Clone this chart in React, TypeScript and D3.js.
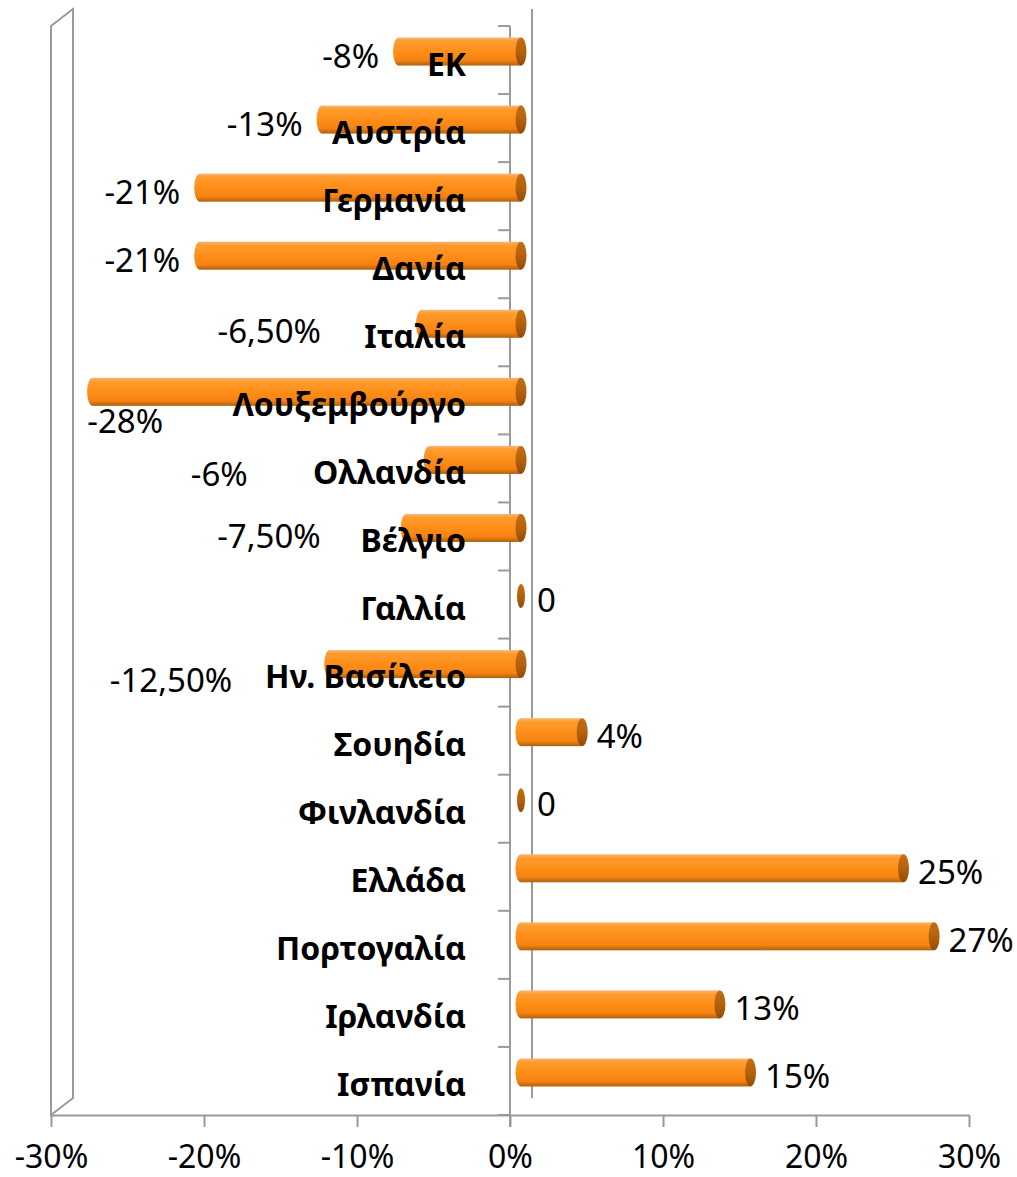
import * as d3 from 'd3';
import React, { useEffect, useRef } from 'react';

const categories = [
  'ΕΚ',
  'Αυστρία',
  'Γερμανία',
  'Δανία',
  'Ιταλία',
  'Λουξεμβούργο',
  'Ολλανδία',
  'Βέλγιο',
  'Γαλλία',
  'Ην. Βασίλειο',
  'Σουηδία',
  'Φινλανδία',
  'Ελλάδα',
  'Πορτογαλία',
  'Ιρλανδία',
  'Ισπανία',
];
const values = [-8, -13, -21, -21, -6.5, -28, -6, -7.5, 0, -12.5, 4, 0, 25, 27, 13, 15];
const valueLabels = [
  '-8%', '-13%', '-21%', '-21%', '-6,50%', '-28%', '-6%', '-7,50%',
  '0', '-12,50%', '4%', '0', '25%', '27%', '13%', '15%',
];
const xTicks = [-30, -20, -10, 0, 10, 20, 30];

// data labels that were dragged by hand in the original (dx, dy)
const labelShift: Record<string, [number, number]> = {
  'Ιταλία': [-81, 3],
  'Λουξεμβούργο': [90, 25],
  'Ολλανδία': [-162, 10],
  'Βέλγιο': [-66, 4],
  'Ην. Βασίλειο': [-78, 12],
};

const width = 1017;
const height = 1177;
const left = 51;
const right = 969;
const top = 26;
const bottom = 1115;
const depthX = 22;
const depthY = -17;
const lineColor = '#9a9a9a';
const font = '"Noto Sans", sans-serif';

const App = () => {
  const svgRef = useRef(null);

  const renderSvg = () => {
    const svg = d3.select(svgRef.current);
    svg.selectAll('*').remove();

    const x = d3.scaleLinear().domain([-30, 30]).range([left, right]);
    const y = d3.scaleBand().domain(categories).range([top, bottom]);
    const bw = y.bandwidth();

    const defs = svg.append('defs');
    const grad = defs
      .append('linearGradient')
      .attr('id', 'barGrad')
      .attr('x1', 0)
      .attr('y1', 0)
      .attr('x2', 0)
      .attr('y2', 1);
    [
      [0, '#f9b672'],
      [0.12, '#ff9c30'],
      [0.5, '#ff8e18'],
      [0.82, '#f38212'],
      [1, '#b0600c'],
    ].forEach(([o, c]) => grad.append('stop').attr('offset', o as number).attr('stop-color', c as string));

    const capGrad = defs
      .append('linearGradient')
      .attr('id', 'capGrad')
      .attr('x1', 0)
      .attr('y1', 0)
      .attr('x2', 0)
      .attr('y2', 1);
    [
      [0, '#c46e16'],
      [0.5, '#b5620c'],
      [1, '#914c08'],
    ].forEach(([o, c]) => capGrad.append('stop').attr('offset', o as number).attr('stop-color', c as string));

    // left wall
    svg
      .append('path')
      .attr(
        'd',
        `M${left},${top}L${left + depthX},${top + depthY}L${left + depthX},${bottom + depthY}L${left},${bottom}Z`
      )
      .attr('fill', 'none')
      .attr('stroke', lineColor)
      .attr('stroke-width', 2);

    // back zero line
    svg
      .append('line')
      .attr('x1', x(0) + depthX)
      .attr('x2', x(0) + depthX)
      .attr('y1', top + depthY)
      .attr('y2', bottom + depthY)
      .attr('stroke', lineColor)
      .attr('stroke-width', 2);

    // x axis
    const xAxis = svg
      .append('g')
      .attr('transform', `translate(0,${bottom})`)
      .call(
        d3
          .axisBottom(x)
          .tickValues(xTicks)
          .tickSize(12)
          .tickSizeOuter(0)
          .tickFormat((d) => d + '%')
      );
    xAxis.select('.domain').attr('stroke', lineColor).attr('stroke-width', 2);
    xAxis.selectAll('.tick line').attr('stroke', lineColor).attr('stroke-width', 2);
    xAxis
      .selectAll('.tick text')
      .attr('y', 41)
      .attr('dy', '0.36em')
      .attr('fill', '#000')
      .style('font-family', font)
      .style('font-size', '32px');

    // category axis
    svg
      .append('line')
      .attr('x1', x(0))
      .attr('x2', x(0))
      .attr('y1', top)
      .attr('y2', bottom + 12)
      .attr('stroke', lineColor)
      .attr('stroke-width', 2);
    const bounds = categories.map((c) => y(c) as number).concat([bottom]);
    svg
      .append('g')
      .selectAll('line')
      .data(bounds)
      .enter()
      .append('line')
      .attr('x1', x(0) - 12)
      .attr('x2', x(0))
      .attr('y1', (d) => d)
      .attr('y2', (d) => d)
      .attr('stroke', lineColor)
      .attr('stroke-width', 2);

    // cylinders, drawn half way into the depth
    const hx = depthX / 2;
    const hy = depthY / 2;
    const r = 14;
    const rx = 5.5;
    const bars = svg.append('g');
    categories.forEach((c, i) => {
      const v = values[i];
      const cy = (y(c) as number) + bw / 2 + hy;
      const x0 = x(0) + hx;
      const x1 = x(v) + hx;
      if (v === 0) {
        bars
          .append('ellipse')
          .attr('cx', x0)
          .attr('cy', cy)
          .attr('rx', 4)
          .attr('ry', r - 2)
          .attr('fill', 'url(#capGrad)');
        return;
      }
      const lo = Math.min(x0, x1);
      const hi = Math.max(x0, x1);
      bars
        .append('ellipse')
        .attr('cx', lo)
        .attr('cy', cy)
        .attr('rx', rx)
        .attr('ry', r)
        .attr('fill', 'url(#barGrad)');
      bars
        .append('rect')
        .attr('x', lo)
        .attr('y', cy - r)
        .attr('width', hi - lo)
        .attr('height', r * 2)
        .attr('fill', 'url(#barGrad)');
      bars
        .append('ellipse')
        .attr('cx', hi)
        .attr('cy', cy)
        .attr('rx', rx)
        .attr('ry', r)
        .attr('fill', 'url(#capGrad)');
    });

    // category labels
    svg
      .append('g')
      .selectAll('text')
      .data(categories)
      .enter()
      .append('text')
      .attr('x', x(0) - 44)
      .attr('y', (d) => (y(d) as number) + bw / 2 + 3)
      .attr('text-anchor', 'end')
      .attr('dominant-baseline', 'central')
      .style('font-family', font)
      .style('font-size', '32px')
      .style('font-weight', 'bold')
      .attr('fill', '#000')
      .text((d) => d);

    // value labels
    svg
      .append('g')
      .selectAll('text')
      .data(categories)
      .enter()
      .append('text')
      .attr('x', (d, i) => {
        const v = values[i];
        const shift = labelShift[d] ? labelShift[d][0] : 0;
        if (v < 0) return x(v) + hx - rx - 14 + shift;
        return x(v) + hx + (v === 0 ? 16 : rx + 9) + shift;
      })
      .attr('y', (d) => {
        const shift = labelShift[d] ? labelShift[d][1] : 0;
        return (y(d) as number) + bw / 2 - 5 + shift;
      })
      .attr('text-anchor', (d, i) => (values[i] < 0 ? 'end' : 'start'))
      .attr('dominant-baseline', 'central')
      .style('font-family', font)
      .style('font-size', '33px')
      .attr('fill', '#000')
      .text((d, i) => valueLabels[i]);
  };

  useEffect(() => {
    renderSvg();
  }, []);

  return (
    <svg
      ref={svgRef}
      width={width}
      height={height}
      style={{ position: 'absolute', left: 0, top: 0, background: '#fff' }}
    />
  );
};

export default App;
